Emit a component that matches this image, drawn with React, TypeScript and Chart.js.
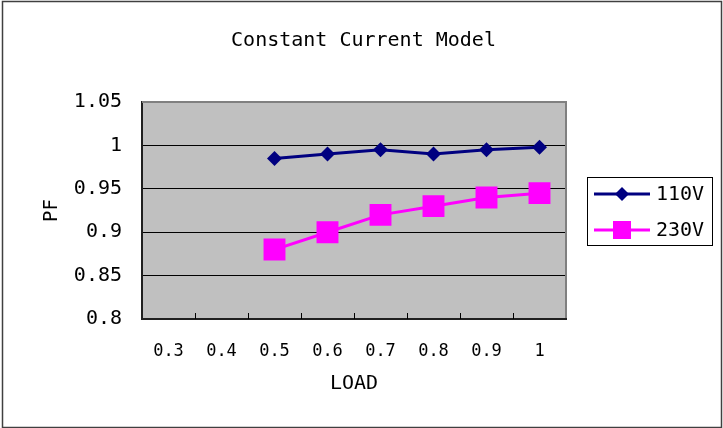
import React, { useEffect, useRef } from 'react';
import { Chart, registerables } from 'chart.js';
Chart.register(...registerables);

const loads = ['0.3', '0.4', '0.5', '0.6', '0.7', '0.8', '0.9', '1'];
const pf110 = [null, null, 0.985, 0.99, 0.995, 0.99, 0.995, 0.998];
const pf230 = [null, null, 0.88, 0.9, 0.92, 0.93, 0.94, 0.945];
const seriesNames = ['110V', '230V'];
const chartTitle = 'Constant Current Model';
const xTitle = 'LOAD';
const yTitle = 'PF';
const yMin = 0.8;
const yMax = 1.05;
const yStep = 0.05;

const FONT = '"DejaVu Sans Mono", monospace';
const NAVY = '#000080';
const PINK = '#FF00FF';

const decor = {
  id: 'decor',
  beforeDraw(chart: any) {
    const { ctx, chartArea: a, width, height } = chart;
    ctx.save();
    ctx.fillStyle = '#ffffff';
    ctx.fillRect(0, 0, width, height);
    ctx.fillStyle = '#C0C0C0';
    ctx.fillRect(a.left, a.top, a.right - a.left, a.bottom - a.top);
    ctx.restore();
  },
  afterDraw(chart: any) {
    const { ctx, chartArea: a, width, height } = chart;
    const xs = chart.scales.x;
    ctx.save();
    // outer border
    ctx.strokeStyle = '#404040';
    ctx.lineWidth = 1.5;
    ctx.strokeRect(2.5, 1.5, width - 4, height - 2);
    // plot border top/right
    ctx.strokeStyle = '#808080';
    ctx.lineWidth = 2;
    ctx.beginPath();
    ctx.moveTo(a.left, a.top);
    ctx.lineTo(a.right, a.top);
    ctx.lineTo(a.right, a.bottom);
    ctx.stroke();
    // bottom axis
    ctx.strokeStyle = '#202020';
    ctx.lineWidth = 2;
    ctx.beginPath();
    ctx.moveTo(a.left, a.bottom);
    ctx.lineTo(a.right + 1, a.bottom);
    ctx.stroke();
    // x inward ticks at category boundaries
    const half = (xs.getPixelForValue(1) - xs.getPixelForValue(0)) / 2;
    ctx.strokeStyle = '#000';
    ctx.lineWidth = 1;
    for (let i = 1; i < loads.length; i++) {
      const px = Math.round(xs.getPixelForValue(i) - half) + 0.5;
      ctx.beginPath();
      ctx.moveTo(px, a.bottom);
      ctx.lineTo(px, a.bottom - 6);
      ctx.stroke();
    }
    // title
    ctx.fillStyle = '#000';
    ctx.textAlign = 'center';
    ctx.textBaseline = 'middle';
    ctx.font = `20px ${FONT}`;
    ctx.fillText(chartTitle, width / 2 + 2, 41);
    // x title
    ctx.fillText(xTitle, (a.left + a.right) / 2, 384);
    // y title
    ctx.save();
    ctx.translate(52, (a.top + a.bottom) / 2);
    ctx.rotate(-Math.PI / 2);
    ctx.font = `19px ${FONT}`;
    ctx.fillText(yTitle, 0, 0);
    ctx.restore();
    // legend
    const lx = 587, ly = 177, lw = 125, lh = 68;
    ctx.fillStyle = '#ffffff';
    ctx.fillRect(lx, ly, lw, lh);
    ctx.strokeStyle = '#000';
    ctx.lineWidth = 1;
    ctx.strokeRect(lx + 0.5, ly + 0.5, lw, lh);
    const rows = [
      { name: seriesNames[0], color: NAVY, y: 194, shape: 'diamond' },
      { name: seriesNames[1], color: PINK, y: 230, shape: 'square' },
    ];
    rows.forEach((r) => {
      ctx.strokeStyle = r.color;
      ctx.lineWidth = 3;
      ctx.beginPath();
      ctx.moveTo(594, r.y);
      ctx.lineTo(650, r.y);
      ctx.stroke();
      ctx.fillStyle = r.color;
      const cx = 622;
      if (r.shape === 'diamond') {
        ctx.beginPath();
        ctx.moveTo(cx, r.y - 7);
        ctx.lineTo(cx + 7, r.y);
        ctx.lineTo(cx, r.y + 7);
        ctx.lineTo(cx - 7, r.y);
        ctx.closePath();
        ctx.fill();
      } else {
        ctx.fillRect(cx - 9, r.y - 9, 18, 18);
      }
      ctx.fillStyle = '#000';
      ctx.textAlign = 'left';
      ctx.font = `20px ${FONT}`;
      ctx.fillText(r.name, 656, r.y + 1);
    });
    ctx.restore();
  },
};

export default function App() {
  const ref = useRef<HTMLCanvasElement>(null);
  useEffect(() => {
    document.body.style.margin = '0';
    const chart = new Chart(ref.current as HTMLCanvasElement, {
      type: 'line',
      data: {
        labels: loads,
        datasets: [
          {
            label: seriesNames[0],
            data: pf110,
            borderColor: NAVY,
            backgroundColor: NAVY,
            borderWidth: 3,
            pointStyle: 'rectRot',
            pointRadius: 7.5,
            pointBorderWidth: 0,
          },
          {
            label: seriesNames[1],
            data: pf230,
            borderColor: PINK,
            backgroundColor: PINK,
            borderWidth: 3,
            pointStyle: 'rect',
            pointRadius: 15.5,
            pointBorderWidth: 0,
          },
        ],
      },
      options: {
        responsive: false,
        animation: false,
        events: [],
        layout: { padding: { left: 0, top: 102, right: 157, bottom: 0 } },
        plugins: { legend: { display: false }, title: { display: false }, tooltip: { enabled: false } },
        scales: {
          x: {
            offset: true,
            grid: { display: false, drawTicks: false },
            border: { display: false },
            ticks: { color: '#000', font: { family: FONT, size: 17 }, padding: 22, maxRotation: 0, autoSkip: false },
            afterFit: (s: any) => { s.height = 109; },
          },
          y: {
            min: yMin,
            max: yMax,
            grid: {
              drawTicks: false,
              color: (c: any) => (Math.abs(c.tick.value - yMax) < 1e-9 ? '#808080' : '#000'),
              lineWidth: 1,
            },
            border: { display: true, color: '#202020', width: 2 },
            ticks: {
              stepSize: yStep,
              color: '#000',
              font: { family: FONT, size: 20 },
              padding: 20,
              callback: (v: any) => String(+(+v).toFixed(2)),
            },
            afterFit: (s: any) => { s.width = 142; },
          },
        },
      },
      plugins: [decor],
    });
    return () => chart.destroy();
  }, []);
  return (
    <div style={{ width: 723, height: 428 }}>
      <canvas ref={ref} width={723} height={428} style={{ display: 'block' }} />
    </div>
  );
}
